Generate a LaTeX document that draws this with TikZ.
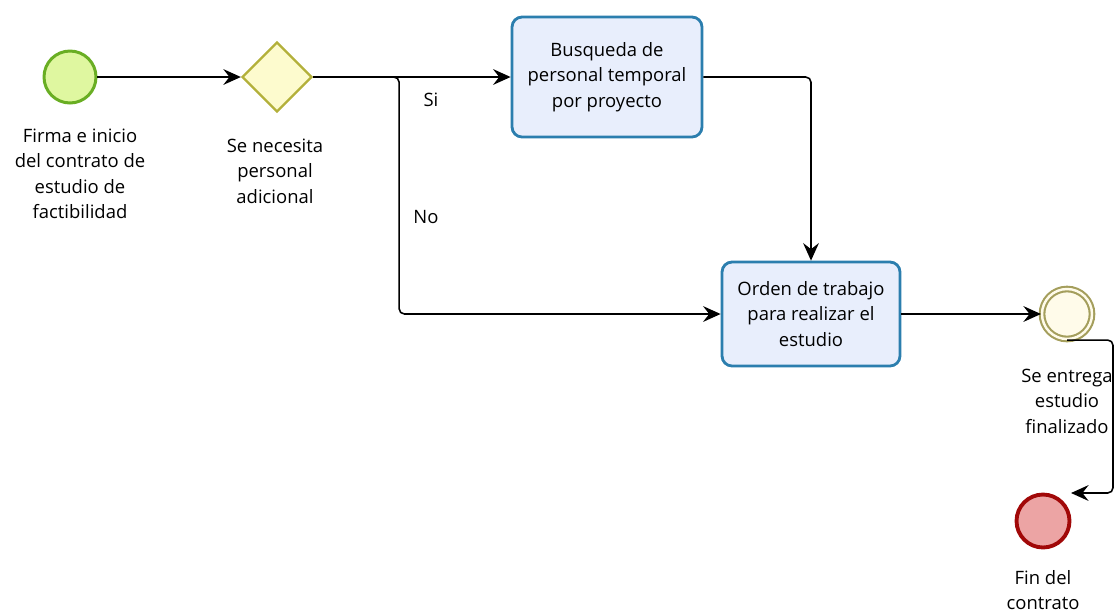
\documentclass[tikz,border=0pt]{standalone}
\usepackage{fontspec}
\setmainfont{Open Sans}
\usetikzlibrary{arrows.meta,shapes.geometric}

\definecolor{startfill}{HTML}{DFF7A0}
\definecolor{startline}{HTML}{69AE23}
\definecolor{gwfill}{HTML}{FDFBCE}
\definecolor{gwline}{HTML}{B3B03A}
\definecolor{taskfill}{HTML}{E8EEFC}
\definecolor{taskline}{HTML}{2B7EAE}
\definecolor{midfill}{HTML}{FFFBEA}
\definecolor{midline}{HTML}{A49E5C}
\definecolor{endfill}{HTML}{ECA4A4}
\definecolor{endline}{HTML}{A10808}

\tikzset{
  startev/.style={circle,draw=startline,fill=startfill,line width=1.7pt,minimum size=1.04cm,inner sep=0pt},
  gateway/.style={diamond,draw=gwline,fill=gwfill,line width=1.3pt,minimum width=1.4cm,minimum height=1.4cm,inner sep=0pt},
  task/.style={rectangle,rounded corners=0.2cm,draw=taskline,fill=taskfill,line width=1.6pt,align=center,inner sep=0pt,font=\fontsize{10.5}{14.5}\selectfont},
  midev/.style={circle,draw=midline,double=midfill,fill=midfill,line width=1.2pt,double distance=1.4pt,minimum size=1.0cm,inner sep=0pt},
  endev/.style={circle,draw=endline,fill=endfill,line width=2.2pt,minimum size=1.06cm,inner sep=0pt},
  txt/.style={align=center,font=\fontsize{10.5}{14.5}\selectfont},
  flow/.style={-{Stealth[length=10pt,width=9pt,inset=3.5pt]},line width=0.9pt,rounded corners=3pt},
}

\begin{document}
\begin{tikzpicture}[x=0.02cm,y=-0.02cm]
  \useasboundingbox (0,0) rectangle (1115,613);

  % eventos y compuertas
  \node[startev] (inicio) at (70,77) {};
  \node[gateway] (decision) at (277,77) {};
  \node[task,minimum width=3.8cm,minimum height=2.4cm] (busqueda) at (607,77)
    {Busqueda de\\ personal temporal\\ por proyecto};
  \node[task,minimum width=3.56cm,minimum height=2.08cm] (orden) at (811,314)
    {Orden de trabajo\\ para realizar el\\ estudio};
  \node[midev] (entrega) at (1067,314) {};
  \node[endev] (fin) at (1043,521) {};

  % etiquetas
  \node[txt] (tinicio) at (80,174) {Firma e inicio\\ del contrato de\\ estudio de\\ factibilidad};
  \node[txt] (tdecision) at (275,171) {Se necesita\\ personal\\ adicional};
  \node[txt] (tentrega) at (1067,401) {Se entrega\\ estudio\\ finalizado};
  \node[txt] (tfin) at (1043,590) {Fin del\\ contrato};
  \node[txt] (si) at (431,100) {Si};
  \node[txt] (no) at (426,217) {No};

  % flujos
  \coordinate (finin) at (1071,493);
  \draw[flow] (inicio) -- (decision);
  \draw[flow] (decision) -- (busqueda);
  \draw[flow] (decision.east) -- ++(86,0) |- (orden.west);
  \draw[flow] (busqueda.east) -| (orden.north);
  \draw[flow] (orden) -- (entrega);
  \draw[flow] (entrega.south) -| (1113,493) -- (finin);
\end{tikzpicture}
\end{document}
